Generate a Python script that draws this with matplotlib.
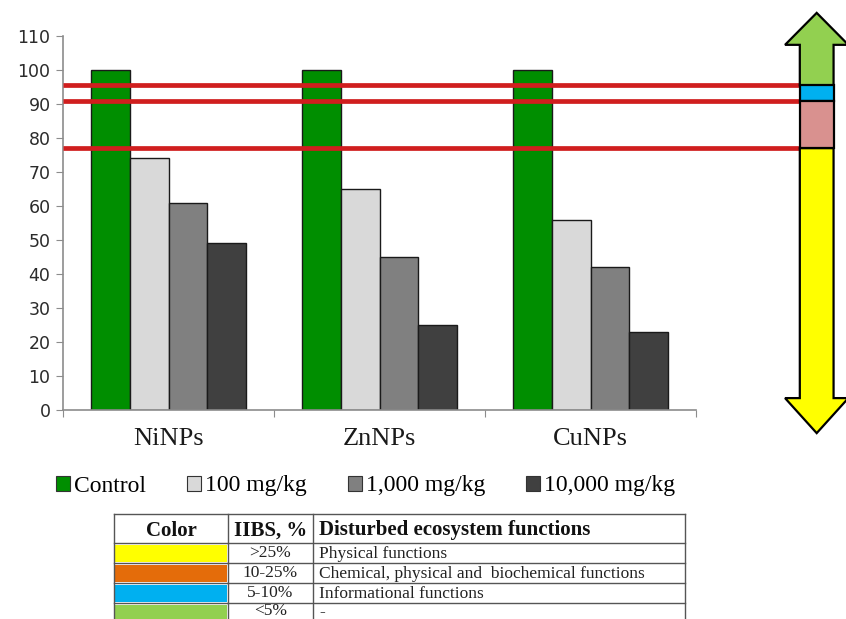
import matplotlib
matplotlib.use("Agg")
import matplotlib.pyplot as plt
from matplotlib.patches import Patch, Polygon, Rectangle
import numpy as np

# ---- data ----
categories = ["NiNPs", "ZnNPs", "CuNPs"]
series_names = ["Control", "100 mg/kg", "1,000 mg/kg", "10,000 mg/kg"]
control = [100, 100, 100]
dose_100 = [74, 65, 56]
dose_1000 = [61, 45, 42]
dose_10000 = [49, 25, 23]
thresholds = [95.5, 91, 77]
yticks = list(range(0, 111, 10))

table_header = ["Color", "IIBS, %", "Disturbed ecosystem functions"]
table_iibs = [">25%", "10-25%", "5-10%", "<5%"]
table_funcs = ["Physical functions", "Chemical, physical and  biochemical functions",
               "Informational functions", "-"]
table_colors = ["#FFFF00", "#E46C0A", "#00B0F0", "#92D050"]

bar_colors = ["#008E00", "#D9D9D9", "#808080", "#404040"]
serif = ["Liberation Serif", "DejaVu Serif"]

W, H = 846, 619
fig = plt.figure(figsize=(W / 100, H / 100), dpi=100)
fig.patch.set_facecolor("white")

# main axes in pixel layout
L, R, T, B = 63, 696, 36, 410
ax = fig.add_axes([L / W, 1 - B / H, (R - L) / W, (B - T) / H])
ax.set_xlim(-0.5, 2.5)
ax.set_ylim(0, 110)

series = [control, dose_100, dose_1000, dose_10000]
x = np.arange(len(categories))
bw = 0.1825
for i, vals in enumerate(series):
    ax.bar(x + (i - 1.5) * bw, vals, width=bw, color=bar_colors[i],
           edgecolor="#1a1a1a", linewidth=1.0, zorder=2)

for s in ["top", "right"]:
    ax.spines[s].set_visible(False)
for s in ["left", "bottom"]:
    ax.spines[s].set_color("#8c8c8c")
    ax.spines[s].set_linewidth(1.2)

ax.set_yticks(yticks)
ax.set_yticklabels([str(v) for v in yticks], fontsize=12.5, color="#2b2b2b",
                   family="DejaVu Sans")
ax.tick_params(axis="y", direction="out", length=5, color="#8c8c8c", pad=4)
ax.set_xticks([-0.5, 0.5, 1.5, 2.5])
ax.set_xticklabels([])
ax.tick_params(axis="x", which="major", direction="out", length=5, color="#8c8c8c")
ax.set_xticks(x, minor=True)
ax.set_xticklabels(categories, minor=True, fontsize=19, family=serif, color="#1a1a1a")
ax.tick_params(axis="x", which="minor", length=0, pad=13)

# threshold lines (extend to arrow)
shaft_c, shaft_hw, head_hw = 3.072, 0.08, 0.15
for t in thresholds:
    ax.plot([-0.5, shaft_c - shaft_hw], [t, t], color="#D01E1E", lw=3.4,
            clip_on=False, zorder=3, solid_capstyle="butt")

# double arrow split by thresholds
top_tip, top_base = 116.8, 107.4
bot_end, bot_tip = 3.5, -6.8
xl, xr = shaft_c - shaft_hw, shaft_c + shaft_hw
hl, hr = shaft_c - head_hw, shaft_c + head_hw
green = [(xl, thresholds[0]), (xl, top_base), (hl, top_base), (shaft_c, top_tip),
         (hr, top_base), (xr, top_base), (xr, thresholds[0])]
blue = [(xl, thresholds[1]), (xl, thresholds[0]), (xr, thresholds[0]), (xr, thresholds[1])]
pink = [(xl, thresholds[2]), (xl, thresholds[1]), (xr, thresholds[1]), (xr, thresholds[2])]
yellow = [(xl, thresholds[2]), (xl, bot_end), (hl, bot_end), (shaft_c, bot_tip),
          (hr, bot_end), (xr, bot_end), (xr, thresholds[2])]
for pts, c in [(green, "#92D050"), (blue, "#00B0F0"), (pink, "#D9918F"), (yellow, "#FFFF00")]:
    ax.add_patch(Polygon(pts, closed=True, facecolor=c, edgecolor="black", lw=1.6,
                         clip_on=False, zorder=4, joinstyle="miter"))

# legend
handles = [Patch(facecolor=bar_colors[i], edgecolor="#333333", linewidth=0.8)
           for i in range(4)]
leg = fig.legend(handles, series_names, loc="center left",
                 bbox_to_anchor=(56 / W, 1 - 486 / H), ncol=4, frameon=False,
                 borderpad=0, borderaxespad=0, handlelength=0.6, handleheight=0.6,
                 handletextpad=0.15, columnspacing=1.75,
                 prop={"family": serif, "size": 17})

# table in pixel coordinates
ov = fig.add_axes([0, 0, 1, 1])
ov.set_xlim(0, W)
ov.set_ylim(H, 0)
ov.axis("off")
cols = [114, 228, 313, 685]
rows = [514, 543, 563, 583, 603, 623]
lc = "#555555"
for k, txt in enumerate(table_header):
    xc = (cols[k] + cols[k + 1]) / 2
    yc = (rows[0] + rows[1]) / 2 + 2
    if k == 2:
        ov.text(cols[2] + 6, yc, txt, ha="left", va="center",
                fontsize=15, fontweight="bold", family=serif, color="#111111")
    else:
        ov.text(xc, yc, txt, ha="center", va="center",
                fontsize=15, fontweight="bold", family=serif, color="#111111")
for r in range(4):
    y0, y1 = rows[r + 1], rows[r + 2]
    yc = (y0 + y1) / 2 if r < 3 else y0 + 8
    ov.add_patch(Rectangle((cols[0] + 1, y0 + 1.5), cols[1] - cols[0] - 2, y1 - y0 - 3,
                           facecolor=table_colors[r], edgecolor="none"))
    ov.text((cols[1] + cols[2]) / 2, yc, table_iibs[r], ha="center",
            va="center", fontsize=12.5, family=serif, color="#222222")
    ov.text(cols[2] + 6, yc + 1, table_funcs[r], ha="left", va="center",
            fontsize=12.5, family=serif, color="#222222")
for yy in rows:
    ov.plot([cols[0], cols[-1]], [yy, yy], color=lc, lw=1)
for xx in cols:
    ov.plot([xx, xx], [rows[0], rows[-1]], color=lc, lw=1)

fig.savefig("out.png", dpi=100, facecolor="white")
